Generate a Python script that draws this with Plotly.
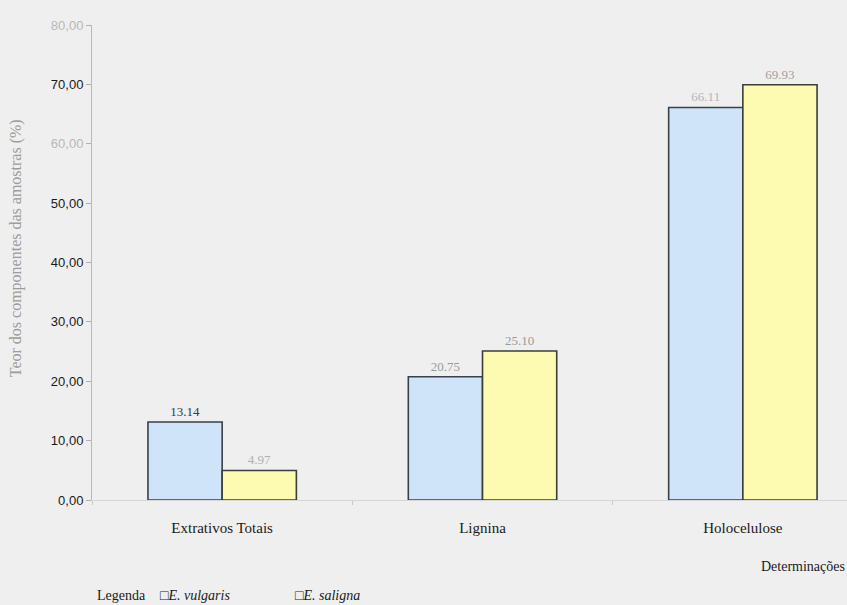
import plotly.graph_objects as go

categories = ["Extrativos Totais", "Lignina", "Holocelulose"]
series_names = ["E. vulgaris", "E. saligna"]
vulgaris = [13.14, 20.75, 66.11]
saligna = [4.97, 25.10, 69.93]
y_ticks = [0, 10, 20, 30, 40, 50, 60, 70, 80]

BG = "#efefef"
blue = "#cfe4f8"
yellow = "#fdfbb2"

fig = go.Figure()
fig.add_trace(go.Bar(
    x=categories, y=vulgaris, name=series_names[0],
    marker=dict(color=blue, line=dict(color="#3a3f48", width=1.6)),
    text=[f"{v:.2f}" for v in vulgaris], textposition="outside",
    textfont=dict(family="Liberation Serif", size=13, color=["#3a3a3a", "#9a9a9a", "#b5b5b5"]),
    cliponaxis=False,
))
fig.add_trace(go.Bar(
    x=categories, y=saligna, name=series_names[1],
    marker=dict(color=yellow, line=dict(color="#3a3f36", width=1.6)),
    text=[f"{v:.2f}" for v in saligna], textposition="outside",
    textfont=dict(family="Liberation Serif", size=13, color=["#b0b0b0", "#9a9a9a", "#a0a0a0"]),
    cliponaxis=False,
))

ticktext = []
for t in y_ticks:
    s = f"{t:.2f}".replace(".", ",")
    if t in (60, 80):
        s = f"<span style='color:#b8b8b8'>{s}</span>"
    ticktext.append(s)

fig.update_layout(
    width=847, height=605,
    paper_bgcolor=BG, plot_bgcolor=BG,
    margin=dict(l=92, r=0, t=25, b=105),
    barmode="group", bargap=0.43, bargroupgap=0.0,
    showlegend=False,
    xaxis=dict(
        range=[-0.5, 2.4], showgrid=False, showline=True, linecolor="#d6d6d6",
        ticks="outside", tickson="boundaries", ticklen=4, tickcolor="#c8c8c8",
        tickfont=dict(family="Liberation Serif", size=15, color="#1a1a1a"),
        ticklabelstandoff=14,
        zeroline=False,
    ),
    yaxis=dict(
        range=[0, 80], tickvals=y_ticks, ticktext=ticktext,
        showgrid=False, showline=True, linecolor="#b8b8b8", linewidth=1,
        ticks="outside", ticklen=5, tickcolor="#b0b0b0",
        tickfont=dict(family="Liberation Sans", size=13, color="#1a1a1a"),
        zeroline=False,
    ),
)

fig.add_annotation(
    text="Teor dos componentes das amostras (%)", textangle=-90,
    xref="paper", yref="paper", x=(16 - 92) / 755, y=0.53, showarrow=False,
    xanchor="center", yanchor="middle",
    font=dict(family="Liberation Serif", size=16, color="#9c9c9c"),
)
fig.add_annotation(
    text="Determinações", xref="paper", yref="paper", x=1.0, y=-0.14,
    xanchor="right", yanchor="middle", showarrow=False,
    font=dict(family="Liberation Serif", size=14, color="#1a1a1a"),
)
fig.add_annotation(
    text="Legenda", xref="paper", yref="paper", x=(95 - 92) / 755, y=-0.2,
    xanchor="left", yanchor="middle", showarrow=False,
    font=dict(family="Liberation Serif", size=14, color="#1a1a1a"),
)
legend_x = [158, 293]
for name, lx in zip(series_names, legend_x):
    fig.add_annotation(
        text=f"□<i>{name}</i>", xref="paper", yref="paper", x=(lx - 92) / 755, y=-0.2,
        xanchor="left", yanchor="middle", showarrow=False,
        font=dict(family="Liberation Serif", size=14, color="#1a1a1a"),
    )

fig.write_html(
    "out.html",
    config={"displayModeBar": False},
    post_script="document.body.style.margin='0';document.body.style.overflow='hidden';",
)
